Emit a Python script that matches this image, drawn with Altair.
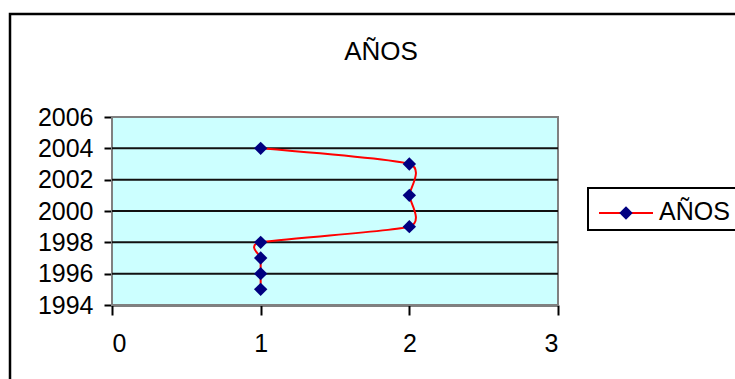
import altair as alt
import pandas as pd

# Series: number of occurrences per year
series_name = "AÑOS"
years = [1995, 1996, 1997, 1998, 1999, 2001, 2003, 2004]
counts = [1, 1, 1, 1, 2, 2, 2, 1]

# Axis ticks
x_ticks = [0, 1, 2, 3]
y_ticks = [1994, 1996, 1998, 2000, 2002, 2004, 2006]

df = pd.DataFrame({"count": counts, "year": years})
grid_df = pd.DataFrame({"year": y_ticks[1:-1]})
legend_df = pd.DataFrame({"label": [series_name]})

FONT = "Liberation Sans"
W, H = 446, 188
PAD = {"left": 112, "top": 117, "right": 735 - 112 - W, "bottom": 379 - 117 - H}

x_scale = alt.Scale(domain=[x_ticks[0], x_ticks[-1]], nice=False, zero=False)
y_scale = alt.Scale(domain=[y_ticks[0], y_ticks[-1]], nice=False, zero=False)

x_axis = alt.Axis(values=x_ticks, title=None, grid=False, tickSize=10, tickWidth=2,
                  tickColor="black", domainColor="black", domainWidth=2,
                  labelFontSize=25, labelFont=FONT, labelColor="black",
                  labelPadding=16, format="d")
y_axis = alt.Axis(values=y_ticks, title=None, grid=False, tickSize=8, tickWidth=2,
                  tickColor="black", domainColor="black", domainWidth=2,
                  labelFontSize=25, labelFont=FONT, labelColor="black",
                  labelPadding=11, format="d")

# outer chart frame (stroke only)
frame = alt.Chart(legend_df).mark_rect(filled=False, stroke="black", strokeWidth=2.5).encode(
    x=alt.value(-102), x2=alt.value(640), y=alt.value(-103), y2=alt.value(290)
)

# plot-area background spanning the full scale domains
plot_bg = alt.Chart(legend_df).mark_rect(color="#CCFFFF", stroke="#808080", strokeWidth=2).encode(
    x=alt.datum(x_ticks[0], scale=x_scale, axis=x_axis),
    x2=alt.datum(x_ticks[-1]),
    y=alt.datum(y_ticks[0], scale=y_scale, axis=y_axis),
    y2=alt.datum(y_ticks[-1]),
)

# horizontal gridlines between the plot edges
grid = alt.Chart(grid_df).mark_rule(color="#111111", strokeWidth=2).encode(
    y=alt.Y("year:Q", scale=y_scale, axis=y_axis)
)

# smoothed series line, drawn in year order
line = alt.Chart(df).mark_line(color="#FF0000", strokeWidth=2,
                               interpolate="cardinal", tension=0.4).encode(
    x=alt.X("count:Q", scale=x_scale, axis=x_axis),
    y=alt.Y("year:Q", scale=y_scale, axis=y_axis),
    order=alt.Order("year:Q", sort="descending"),
)

points = alt.Chart(df).mark_point(shape="diamond", filled=True, color="#000080",
                                  size=180, opacity=1).encode(
    x=alt.X("count:Q", scale=x_scale, axis=x_axis),
    y=alt.Y("year:Q", scale=y_scale, axis=y_axis),
)

title = alt.Chart(legend_df).mark_text(font=FONT, fontSize=26, color="black",
                                       align="center", baseline="alphabetic").encode(
    x=alt.value(269), y=alt.value(-57), text="label:N"
)

# legend: box, line sample, marker sample, label
leg_box = alt.Chart(legend_df).mark_rect(fill="white", stroke="black", strokeWidth=2).encode(
    x=alt.value(476), x2=alt.value(640), y=alt.value(71), y2=alt.value(113)
)
leg_line = alt.Chart(legend_df).mark_rule(color="#FF0000", strokeWidth=2).encode(
    x=alt.value(487), x2=alt.value(541), y=alt.value(96)
)
leg_point = alt.Chart(legend_df).mark_point(shape="diamond", filled=True, color="#000080",
                                            size=180, opacity=1).encode(
    x=alt.value(514), y=alt.value(96)
)
leg_text = alt.Chart(legend_df).mark_text(font=FONT, fontSize=25, color="black",
                                          align="left", baseline="alphabetic").encode(
    x=alt.value(547), y=alt.value(103), text="label:N"
)

chart = alt.layer(
    frame, plot_bg, grid, line, points, title, leg_box, leg_line, leg_point, leg_text
).properties(
    width=W, height=H, padding=PAD, autosize=alt.AutoSizeParams(type="none"),
    background="white",
).configure_view(
    stroke=None
).configure(font=FONT)

chart.save("out.html", embed_options={"renderer": "svg", "actions": False})
